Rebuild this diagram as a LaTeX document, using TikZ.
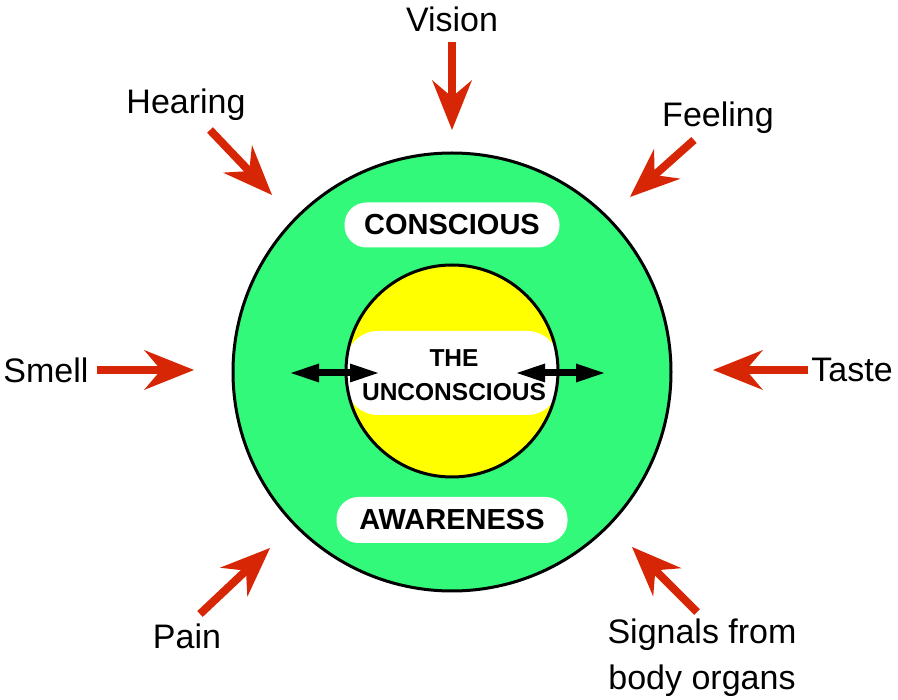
\documentclass[tikz,border=0pt]{standalone}
\usepackage{fontspec}
\setmainfont{Liberation Sans}
\usetikzlibrary{arrows.meta}
\definecolor{ringgreen}{RGB}{51,249,122}
\definecolor{arrowred}{RGB}{215,38,5}
\definecolor{coreyellow}{RGB}{255,255,0}
\begin{document}
\begin{tikzpicture}[x=1pt,y=-1pt,
  lbl/.style={font=\fontsize{34}{46}\selectfont, inner sep=0pt, align=center},
  sense/.style={draw=arrowred, line width=8pt,
    -{Stealth[length=50pt,width=40pt,inset=17pt,line width=0pt]}},
  twoway/.style={draw=black, line width=7pt,
    {Triangle[length=28pt,width=19pt,line width=0pt]}-{Triangle[length=28pt,width=19pt,line width=0pt]}},
  pill/.style={fill=white, rounded corners=22pt, inner sep=0pt,
    font=\bfseries\fontsize{29}{34}\selectfont}]
\useasboundingbox (0,0) rectangle (898,700);
% circles
\node[circle, draw=black, line width=3pt, fill=ringgreen, minimum size=438pt, inner sep=0pt] (outer) at (452,372) {};
\begin{scope}
  \clip (452,371) circle (106pt);
  \fill[coreyellow] (452,371) circle (106pt);
  \fill[white, rounded corners=32pt] (346,331) rectangle (559,415);
\end{scope}
\node[circle, draw=black, line width=3pt, minimum size=212pt, inner sep=0pt] (inner) at (452,371) {};
\node[font=\bfseries\fontsize{24.5}{34}\selectfont, align=center, inner sep=0pt] (uncon) at (454,375) {THE\\UNCONSCIOUS};
% pills
\node[pill, minimum width=215pt, minimum height=45pt] (consc) at (452,225) {CONSCIOUS};
\node[pill, minimum width=231pt, minimum height=46pt] (aware) at (452,520) {AWARENESS};
% two-way arrows
\coordinate (la1) at (291,373);
\coordinate (la2) at (378,373);
\coordinate (ra1) at (517,373);
\coordinate (ra2) at (604,373);
\draw[twoway] (la1) -- (la2);
\draw[twoway] (ra1) -- (ra2);
% labels
\node[lbl] (vision) at (452,19) {Vision};
\node[lbl] (hearing) at (186,105) {Hearing};
\node[lbl] (feeling) at (718,118) {Feeling};
\node[lbl] (smell) at (46,370) {Smell};
\node[lbl] (taste) at (852,370) {Taste};
\node[lbl] (pain) at (187,636) {Pain};
\node[lbl] (signals) at (702,658) {Signals from\\body organs};
% sense arrows
\coordinate (v1) at (452,42);  \coordinate (v2) at (452,130);
\coordinate (h1) at (210,130); \coordinate (h2) at (272,195);
\coordinate (f1) at (694,140); \coordinate (f2) at (630,197);
\coordinate (s1) at (97,370);  \coordinate (s2) at (194,370);
\coordinate (t1) at (808,370); \coordinate (t2) at (713,370);
\coordinate (p1) at (200,614); \coordinate (p2) at (270,548);
\coordinate (g1) at (697,612); \coordinate (g2) at (632,547);
\draw[sense] (v1) -- (v2);
\draw[sense] (h1) -- (h2);
\draw[sense] (f1) -- (f2);
\draw[sense] (s1) -- (s2);
\draw[sense] (t1) -- (t2);
\draw[sense] (p1) -- (p2);
\draw[sense] (g1) -- (g2);
\end{tikzpicture}
\end{document}
